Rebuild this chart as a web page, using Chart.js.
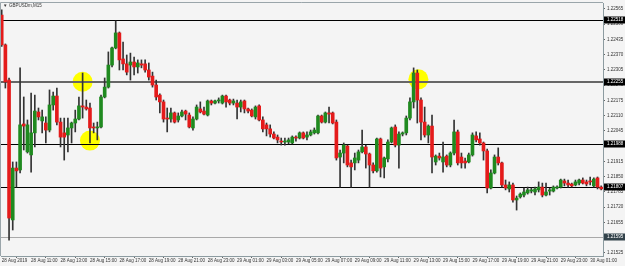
<!DOCTYPE html>
<html><head><meta charset="utf-8">
<script src="https://cdn.jsdelivr.net/npm/chart.js@4/dist/chart.umd.min.js"></script>
<style>html,body{margin:0;padding:0;background:#f4f4f4;overflow:hidden}</style>
</head><body>
<canvas id="c" width="625" height="266"></canvas>
<script>
const chartTitle = 'GBPUSDm,M15';
const timeLabels = ['28 Aug 2019','28 Aug 11:00','28 Aug 13:00','28 Aug 15:00','28 Aug 17:00','28 Aug 19:00','28 Aug 21:00','28 Aug 23:00','29 Aug 01:00','29 Aug 03:00','29 Aug 05:00','29 Aug 07:00','29 Aug 09:00','29 Aug 11:00','29 Aug 13:00','29 Aug 15:00','29 Aug 17:00','29 Aug 19:00','29 Aug 21:00','29 Aug 23:00','30 Aug 01:00'];
const timeTickIndex = [0,8,16,24,32,40,48,56,64,72,80,88,96,104,112,120,128,136,144,152,160];
const priceTicks = [1.22565,1.22500,1.22435,1.22370,1.22305,1.22240,1.22175,1.22110,1.22045,1.21980,1.21915,1.21850,1.21785,1.21720,1.21655,1.21590,1.21525];

const open = [1.22539,1.22412,1.22262,1.21666,1.21887,1.21879,1.22075,1.21956,1.21943,1.22037,
1.22126,1.22088,1.22079,1.22049,1.22156,1.22194,1.22083,1.22037,1.22028,1.22058,
1.22079,1.22096,1.22152,1.22147,1.22143,1.22062,1.22058,1.22062,1.22190,1.22232,
1.22326,1.22399,1.22463,1.22352,1.22331,1.22326,1.22339,1.22318,1.22331,1.22331,
1.22305,1.22279,1.22241,1.22198,1.22169,1.22100,1.22096,1.22122,1.22092,1.22109,
1.22130,1.22113,1.22058,1.22096,1.22139,1.22130,1.22113,1.22173,1.22164,1.22173,
1.22164,1.22194,1.22177,1.22164,1.22164,1.22147,1.22173,1.22139,1.22134,1.22105,
1.22152,1.22092,1.22071,1.22054,1.22032,1.22019,1.22002,1.21998,1.21998,1.21994,
1.22019,1.22015,1.22037,1.22019,1.22028,1.22037,1.22037,1.22109,1.22083,1.22122,
1.22122,1.22083,1.21934,1.21951,1.21981,1.21909,1.21909,1.21921,1.21956,1.21977,
1.21947,1.21900,1.21875,1.22011,1.21892,1.21926,1.21998,1.22062,1.21985,1.22032,
1.22037,1.22100,1.22169,1.22292,1.22177,1.22083,1.22028,1.22066,1.21913,1.21938,
1.21913,1.21938,1.21900,1.21951,1.22041,1.21934,1.21917,1.21913,1.21943,1.22024,
1.22011,1.21994,1.21960,1.21802,1.21866,1.21934,1.21909,1.21815,1.21798,1.21815,
1.21751,1.21764,1.21772,1.21781,1.21789,1.21785,1.21794,1.21806,1.21772,1.21789,
1.21789,1.21802,1.21806,1.21832,1.21823,1.21819,1.21815,1.21823,1.21836,1.21828,
1.21832,1.21811,1.21845,1.21806];
const high = [1.22561,1.22416,1.22271,1.21913,1.21913,1.22314,1.22190,1.22092,1.22207,1.22198,
1.22143,1.22134,1.22105,1.22220,1.22211,1.22228,1.22100,1.22100,1.22100,1.22083,
1.22134,1.22190,1.22292,1.22177,1.22164,1.22079,1.22083,1.22198,1.22271,1.22382,
1.22403,1.22514,1.22467,1.22424,1.22369,1.22377,1.22360,1.22348,1.22348,1.22348,
1.22335,1.22296,1.22262,1.22203,1.22177,1.22143,1.22143,1.22126,1.22122,1.22134,
1.22134,1.22122,1.22105,1.22156,1.22169,1.22147,1.22177,1.22177,1.22177,1.22186,
1.22198,1.22198,1.22181,1.22181,1.22177,1.22177,1.22177,1.22143,1.22139,1.22152,
1.22156,1.22105,1.22079,1.22071,1.22041,1.22028,1.22015,1.22015,1.22015,1.22024,
1.22024,1.22041,1.22041,1.22041,1.22049,1.22058,1.22113,1.22113,1.22126,1.22147,
1.22126,1.22092,1.21964,1.21994,1.21985,1.21921,1.21951,1.21964,1.22049,1.21985,
1.21951,1.21909,1.22015,1.22015,1.21934,1.22007,1.22062,1.22071,1.22041,1.22041,
1.22109,1.22186,1.22314,1.22305,1.22186,1.22147,1.22071,1.22113,1.21943,1.21951,
1.21998,1.21943,1.21956,1.22092,1.22049,1.21951,1.21930,1.21951,1.22037,1.22041,
1.22037,1.21998,1.21968,1.21879,1.21943,1.21973,1.21913,1.21836,1.21828,1.21823,
1.21768,1.21781,1.21802,1.21806,1.21802,1.21806,1.21828,1.21823,1.21823,1.21802,
1.21811,1.21811,1.21840,1.21840,1.21836,1.21823,1.21836,1.21840,1.21845,1.21836,
1.21849,1.21845,1.21849,1.21811];
const low = [1.22405,1.22228,1.21580,1.21623,1.21806,1.21866,1.21964,1.21951,1.21870,1.21977,
1.22092,1.22037,1.21994,1.22041,1.22134,1.22071,1.21977,1.21921,1.21956,1.21994,
1.22041,1.22092,1.22100,1.22134,1.21994,1.22037,1.22007,1.22058,1.22186,1.22228,
1.22318,1.22395,1.22305,1.22305,1.22284,1.22262,1.22284,1.22292,1.22314,1.22296,
1.22262,1.22232,1.22177,1.22122,1.22083,1.22041,1.22083,1.22079,1.22083,1.22105,
1.22092,1.22058,1.22049,1.22092,1.22122,1.22113,1.22109,1.22156,1.22160,1.22164,
1.22160,1.22147,1.22156,1.22156,1.22096,1.22126,1.22122,1.22122,1.22105,1.22096,
1.22088,1.22041,1.22024,1.22019,1.22011,1.21994,1.21985,1.21985,1.21990,1.21990,
1.22002,1.22011,1.22011,1.22007,1.22024,1.22032,1.22032,1.22079,1.22079,1.22079,
1.22075,1.21921,1.21806,1.21909,1.21892,1.21806,1.21879,1.21909,1.21951,1.21887,
1.21806,1.21866,1.21870,1.21849,1.21845,1.21913,1.21994,1.21977,1.21887,1.22024,
1.22028,1.22092,1.22143,1.22079,1.22007,1.22019,1.21994,1.21866,1.21900,1.21921,
1.21870,1.21892,1.21892,1.21943,1.21900,1.21887,1.21887,1.21909,1.21938,1.21998,
1.21985,1.21921,1.21781,1.21798,1.21862,1.21900,1.21806,1.21794,1.21785,1.21742,
1.21708,1.21759,1.21764,1.21776,1.21781,1.21772,1.21785,1.21764,1.21768,1.21772,
1.21785,1.21798,1.21802,1.21811,1.21806,1.21806,1.21811,1.21815,1.21819,1.21811,
1.21815,1.21806,1.21798,1.21794];
const close = [1.22412,1.22254,1.21674,1.21887,1.21875,1.22071,1.22066,1.22071,1.22037,1.22130,
1.22105,1.22105,1.22049,1.22156,1.22194,1.22083,1.22019,1.22019,1.22058,1.22079,
1.22096,1.22152,1.22147,1.22139,1.22058,1.22058,1.22062,1.22190,1.22232,1.22326,
1.22399,1.22463,1.22348,1.22331,1.22296,1.22339,1.22318,1.22335,1.22326,1.22305,
1.22275,1.22241,1.22190,1.22169,1.22096,1.22096,1.22122,1.22083,1.22109,1.22126,
1.22117,1.22062,1.22096,1.22147,1.22126,1.22117,1.22173,1.22164,1.22173,1.22177,
1.22194,1.22169,1.22164,1.22173,1.22147,1.22169,1.22139,1.22130,1.22109,1.22147,
1.22092,1.22054,1.22054,1.22032,1.22015,1.22007,1.21998,1.22002,1.22007,1.22019,
1.22015,1.22037,1.22015,1.22028,1.22041,1.22049,1.22109,1.22083,1.22122,1.22117,
1.22079,1.21930,1.21951,1.21985,1.21900,1.21892,1.21930,1.21956,1.21977,1.21947,
1.21900,1.21875,1.22011,1.21887,1.21930,1.21998,1.22058,1.21985,1.22032,1.22037,
1.22100,1.22169,1.22292,1.22177,1.22083,1.22028,1.22066,1.21934,1.21938,1.21930,
1.21934,1.21900,1.21951,1.22041,1.21909,1.21909,1.21909,1.21943,1.22028,1.22007,
1.21994,1.21960,1.21802,1.21866,1.21934,1.21909,1.21815,1.21802,1.21815,1.21751,
1.21759,1.21776,1.21785,1.21794,1.21794,1.21798,1.21806,1.21772,1.21785,1.21794,
1.21806,1.21806,1.21836,1.21823,1.21815,1.21811,1.21828,1.21836,1.21823,1.21819,
1.21828,1.21840,1.21806,1.21798];

const levelPrices = [1.22518,1.22255,1.21988,1.21807,1.21595];
const levelLabels = ['1.22518','1.22255','1.21988','1.21807','1.21595'];
const markerIndex = [22.0,24.0,113.3];
const markerPrice = [1.22255,1.22004,1.22265];

const GREEN = '#1f8a1f', RED = '#e41b1b', WICK = '#333333';
const idx = open.map((_, i) => i);
const wickData = idx.map(i => ({x: i, y: [low[i], high[i]]}));
const bodyData = idx.map(i => ({x: i, y: [Math.min(open[i], close[i]), Math.max(open[i], close[i])]}));
const bodyColors = idx.map(i => close[i] > open[i] ? GREEN : (close[i] < open[i] ? RED : WICK));

const FONT = 'Liberation Sans';
const levelStyle = [
  {color:'#000', width:1, box:'#000'},
  {color:'#666', width:2, box:'#000'},
  {color:'#000', width:1, box:'#000'},
  {color:'#000', width:1, box:'#000'},
  {color:'#a8a8a8', width:1, box:'#33434b'}
];

const decor = {
  id: 'decor',
  beforeDraw(chart) {
    const c = chart.ctx;
    c.save(); c.fillStyle = '#f4f4f4'; c.fillRect(0, 0, chart.width, chart.height); c.restore();
  },
  beforeDatasetsDraw(chart) {
    const c = chart.ctx, xs = chart.scales.x, ys = chart.scales.y, a = chart.chartArea;
    c.save();
    c.beginPath(); c.rect(a.left, a.top, a.right - a.left, a.bottom - a.top); c.clip();
    c.fillStyle = '#ffff00';
    markerIndex.forEach((m, k) => {
      c.beginPath(); c.arc(xs.getPixelForValue(m), ys.getPixelForValue(markerPrice[k]), 10, 0, Math.PI * 2); c.fill();
    });
    levelPrices.forEach((p, k) => {
      const st = levelStyle[k];
      let y = Math.round(ys.getPixelForValue(p));
      if (st.width % 2 === 1) y += 0.5;
      c.strokeStyle = st.color; c.lineWidth = st.width;
      c.beginPath(); c.moveTo(a.left, y); c.lineTo(a.right, y); c.stroke();
    });
    c.restore();
  },
  afterDraw(chart) {
    const c = chart.ctx, ys = chart.scales.y, a = chart.chartArea;
    c.save();
    c.strokeStyle = '#9aa5aa'; c.lineWidth = 1;
    c.beginPath(); c.moveTo(a.left - 0.5, a.bottom); c.lineTo(a.left - 0.5, a.top - 0.5); c.lineTo(a.right, a.top - 0.5); c.stroke();
    c.font = '4.5px "' + FONT + '"'; c.textBaseline = 'middle'; c.textAlign = 'left';
    levelPrices.forEach((p, k) => {
      const y = Math.round(ys.getPixelForValue(p));
      c.fillStyle = levelStyle[k].box; c.fillRect(a.right + 1, y - 3.5, 21, 7);
      c.fillStyle = '#fff'; c.fillText(levelLabels[k], a.right + 4, y);
    });
    c.fillStyle = '#333';
    c.fillText('\u25BC', a.left + 2, 6);
    c.fillText(chartTitle, a.left + 8, 6);
    c.restore();
  }
};

new Chart(document.getElementById('c'), {
  type: 'bar',
  data: {datasets: [
    {data: bodyData, backgroundColor: bodyColors, barThickness: 3, minBarLength: 1, grouped: false, order: 0, borderWidth: 0},
    {data: wickData, backgroundColor: WICK, barThickness: 1, grouped: false, order: 1, borderWidth: 0}
  ]},
  options: {
    responsive: false, animation: false,
    layout: {padding: {top: 3, left: 1, right: 0, bottom: 0}},
    plugins: {legend: {display: false}, tooltip: {enabled: false}},
    scales: {
      x: {
        type: 'linear', min: -0.19, max: 163.49, offset: false,
        grid: {display: true, drawOnChartArea: false, tickLength: 2, color: '#666'},
        border: {display: true, color: '#8c9ba0'},
        ticks: {align: 'start', autoSkip: false, maxRotation: 0, minRotation: 0, padding: 0, color: '#333',
          font: {size: 4.5, family: FONT}, callback: (v, i) => timeLabels[i]},
        afterBuildTicks: s => { s.ticks = timeTickIndex.map(v => ({value: v})); },
        afterFit: s => { s.height = 10; s.paddingLeft = 0; s.paddingRight = 0; }
      },
      y: {
        position: 'right', min: 1.215122, max: 1.225905,
        grid: {display: true, drawOnChartArea: false, tickLength: 2, color: '#666'},
        border: {display: true, color: '#8c9ba0'},
        ticks: {padding: 2, color: '#333', font: {size: 4.5, family: FONT}, callback: v => v.toFixed(5)},
        afterBuildTicks: s => { s.ticks = priceTicks.map(v => ({value: v})); },
        afterFit: s => { s.width = 22; s.paddingTop = 0; s.paddingBottom = 0; }
      }
    }
  },
  plugins: [decor]
});
</script>
</body></html>
